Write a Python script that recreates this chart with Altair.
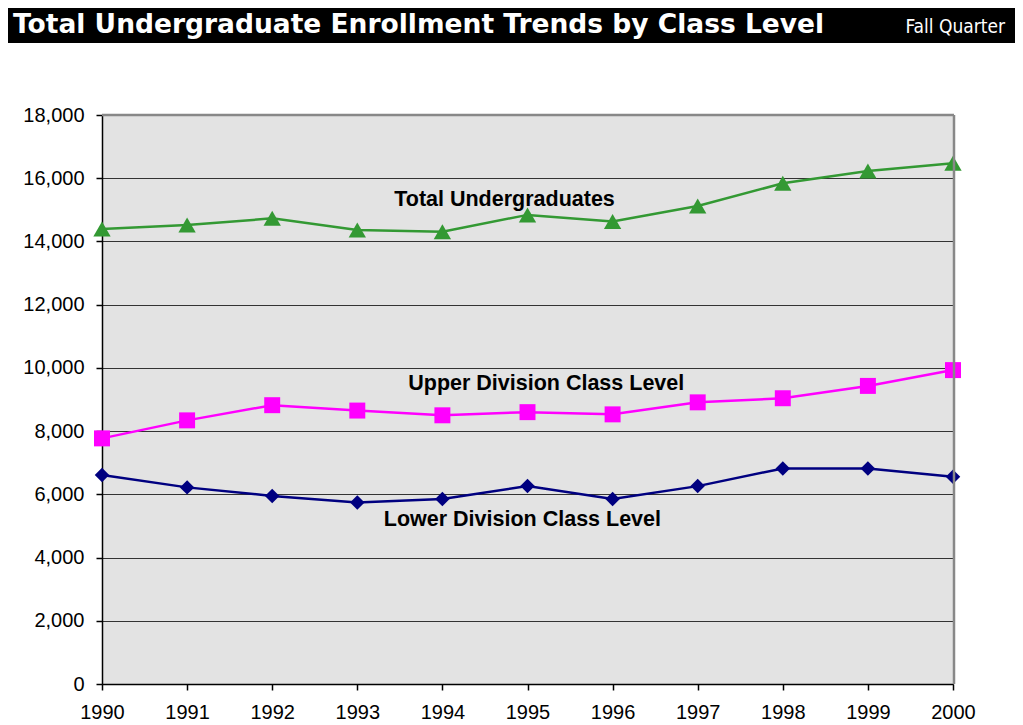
import altair as alt
import pandas as pd

years = [1990, 1991, 1992, 1993, 1994, 1995, 1996, 1997, 1998, 1999, 2000]
total = [14390, 14520, 14730, 14360, 14310, 14840, 14630, 15120, 15840, 16230, 16470]
upper = [7770, 8340, 8820, 8650, 8500, 8600, 8530, 8910, 9040, 9430, 9930]
lower = [6610, 6220, 5950, 5740, 5850, 6260, 5850, 6260, 6820, 6820, 6560]

series_names = ["Total Undergraduates", "Upper Division Class Level", "Lower Division Class Level"]
series_colors = ["#339933", "#FF00FF", "#000080"]
series_shapes = ["triangle-up", "square", "diamond"]

label_x = [1994.73, 1995.22, 1994.94]
label_y = [15130, 9300, 5000]

title_text = "Total Undergraduate Enrollment Trends by Class Level"
subtitle_text = "Fall Quarter"

rows = []
for name, vals in zip(series_names, [total, upper, lower]):
    for yr, v in zip(years, vals):
        rows.append({"year": yr, "value": v, "series": name})
df = pd.DataFrame(rows)
labels_df = pd.DataFrame({"series": series_names, "x": label_x, "y": label_y})

W, H = 851, 569
FONT = "Liberation Sans"

xscale = alt.Scale(domain=[1990, 2000], nice=False, zero=False)
yscale = alt.Scale(domain=[0, 18000], nice=False)
cscale = alt.Scale(domain=series_names, range=series_colors)
sscale = alt.Scale(domain=series_names, range=series_shapes)

x_axis = alt.Axis(values=years, format="d", title=None, grid=False,
                  labelFont=FONT, labelFontSize=20, labelColor="#000",
                  labelFlush=False, labelOverlap=False,
                  tickColor="#000", tickSize=6, tickWidth=1.5,
                  domainColor="#000", domainWidth=1.5, labelPadding=12)
y_axis = alt.Axis(values=list(range(0, 18001, 2000)), format=",d", title=None,
                  grid=True, gridColor="#333333", gridWidth=1,
                  labelFont=FONT, labelFontSize=20, labelColor="#000",
                  labelFlush=False, labelOverlap=False,
                  tickColor="#000", tickSize=6, tickWidth=1.5,
                  domainColor="#000", domainWidth=1.5, labelPadding=12)

base = alt.Chart(df)

lines = base.mark_line(strokeWidth=2.5).encode(
    x=alt.X("year:Q", scale=xscale, axis=x_axis),
    y=alt.Y("value:Q", scale=yscale, axis=y_axis),
    color=alt.Color("series:N", scale=cscale, legend=None),
    detail="series:N",
)

points = base.mark_point(filled=True, opacity=1, strokeWidth=0).encode(
    x=alt.X("year:Q", scale=xscale),
    y=alt.Y("value:Q", scale=yscale),
    color=alt.Color("series:N", scale=cscale, legend=None),
    shape=alt.Shape("series:N", scale=sscale, legend=None),
    size=alt.Size("series:N", scale=alt.Scale(domain=series_names, range=[300, 210, 220]), legend=None),
)

labels = alt.Chart(labels_df).mark_text(
    font=FONT, fontSize=21.5, fontWeight="bold", color="#000",
    align="center", baseline="alphabetic"
).encode(
    x=alt.X("x:Q", scale=xscale),
    y=alt.Y("y:Q", scale=yscale),
    text="series:N",
)

one = alt.Data(values=[{"a": 1}])

border = alt.Chart(one).mark_rule(color="#888888", strokeWidth=2.5).encode(
    x=alt.value(0), x2=alt.value(W + 1), y=alt.value(0), y2=alt.value(0)
)
border_r = alt.Chart(one).mark_rule(color="#888888", strokeWidth=2.5).encode(
    x=alt.value(W + 1), x2=alt.value(W + 1), y=alt.value(0), y2=alt.value(H)
)

bar = alt.Chart(one).mark_rect(color="#000000").encode(
    x=alt.value(-94), x2=alt.value(W + 62), y=alt.value(-107), y2=alt.value(-72)
)
title = alt.Chart(one).mark_text(
    text=title_text, font="DejaVu Sans", fontSize=26.5, fontWeight="bold", color="#ffffff",
    align="left", baseline="alphabetic"
).encode(x=alt.value(-89), y=alt.value(-82))
sub = alt.Chart(one).mark_text(
    text=subtitle_text, font="DejaVu Sans Condensed, Roboto Condensed, Liberation Sans",
    fontSize=19, color="#ffffff",
    align="right", baseline="alphabetic"
).encode(x=alt.value(903), y=alt.value(-82))

chart = alt.layer(lines, points, labels, border, border_r, bar, title, sub).properties(
    width=W, height=H,
    autosize=alt.AutoSizeParams(type="none"),
    padding={"left": 94, "top": 107, "right": 62, "bottom": 41},
    background="#ffffff",
).configure_view(fill="#E3E3E3", stroke=None)

chart.save("out.html", embed_options={"renderer": "svg", "actions": False})
